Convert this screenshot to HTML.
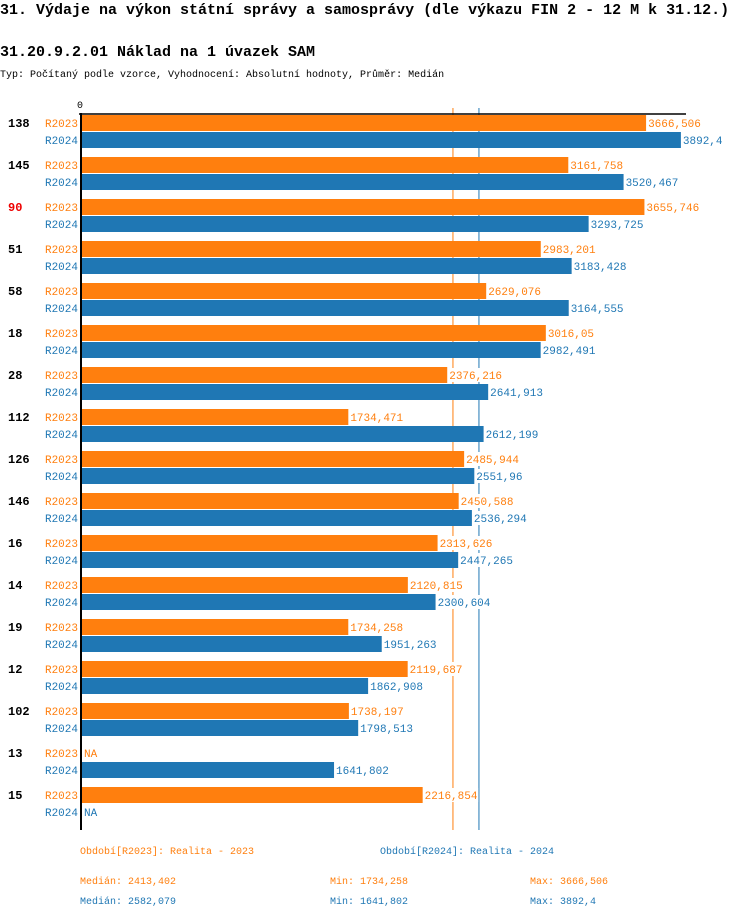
<!DOCTYPE html>
<html><head><meta charset="utf-8"><style>
body{margin:0;background:#fff;width:750px;height:918px;overflow:hidden;font-family:"Liberation Mono",monospace}
svg text{font-family:"Liberation Mono",monospace}
</style></head><body>
<svg id="chart" width="750" height="918" xmlns="http://www.w3.org/2000/svg">
<text x="0" y="14" font-size="15" font-weight="bold" fill="#000">31. Výdaje na výkon státní správy a samosprávy (dle výkazu FIN 2 - 12 M k 31.12.)</text>
<text x="0" y="56" font-size="15" font-weight="bold" fill="#000">31.20.9.2.01 Náklad na 1 úvazek SAM</text>
<text x="0" y="77" font-size="10" fill="#000">Typ: Počítaný podle vzorce, Vyhodnocení: Absolutní hodnoty, Průměr: Medián</text>
<text x="77" y="108" font-size="10" fill="#000">0</text>
<g id="marks"></g>
<line x1="79" y1="114" x2="686" y2="114" stroke="#000" stroke-width="1.5"/>
<line x1="81" y1="113" x2="81" y2="830" stroke="#000" stroke-width="2"/>
<g font-size="10">
<text x="80" y="854" fill="#ff7f0e">Období[R2023]: Realita - 2023</text>
<text x="380" y="854" fill="#1f77b4">Období[R2024]: Realita - 2024</text>
<text x="80" y="884" fill="#ff7f0e">Medián: 2413,402</text>
<text x="330" y="884" fill="#ff7f0e">Min: 1734,258</text>
<text x="530" y="884" fill="#ff7f0e">Max: 3666,506</text>
<text x="80" y="904" fill="#1f77b4">Medián: 2582,079</text>
<text x="330" y="904" fill="#1f77b4">Min: 1641,802</text>
<text x="530" y="904" fill="#1f77b4">Max: 3892,4</text>
</g>
</svg>
<script>
const categories=["138","145","90","51","58","18","28","112","126","146","16","14","19","12","102","13","15"];
const r2023=[3666.506,3161.758,3655.746,2983.201,2629.076,3016.05,2376.216,1734.471,2485.944,2450.588,2313.626,2120.815,1734.258,2119.687,1738.197,null,2216.854];
const r2024=[3892.4,3520.467,3293.725,3183.428,3164.555,2982.491,2641.913,2612.199,2551.96,2536.294,2447.265,2300.604,1951.263,1862.908,1798.513,1641.802,null];
const medians=[2413.402,2582.079];
const highlight="90";
const NS="http://www.w3.org/2000/svg";
const g=document.getElementById('marks');
const x=v=>81+v*0.15412;
const y=i=>115+i*42;
function mk(t,a){const e=document.createElementNS(NS,t);for(const k in a)e.setAttribute(k,a[k]);g.appendChild(e);return e;}
const fmt=v=>String(v).replace('.',',');
const cols=["#ff7f0e","#1f77b4"];
medians.forEach((m,j)=>{
 const l=mk('line',{x1:x(m),x2:x(m),y1:108,y2:830,stroke:cols[j],'stroke-width':1});
 
 
});
categories.forEach((c,i)=>{
 const t=mk('text',{x:8,y:y(i)+12,'font-size':12,'font-weight':'bold',fill:c===highlight?'#e00':'#000'});
 t.textContent=c;
 
 
 [r2023[i],r2024[i]].forEach((v,j)=>{
  const yy=y(i)+j*17;
  const lb=mk('text',{x:78,y:yy+12,'font-size':11,fill:cols[j],'text-anchor':'end'});
  lb.textContent=j?'R2024':'R2023';
  
  
  let end=82;
  if(v!==null){
   const r=mk('rect',{x:82,y:yy,width:x(v)-82,height:16,fill:cols[j]});
   
   
   end=x(v);
  }
  const txt=v===null?'NA':fmt(v);
  const bg=mk('rect',{x:end+1,y:yy+1,width:txt.length*6.6+2,height:14,fill:'#fff'});
  
  
  const vl=mk('text',{x:end+2,y:yy+12,'font-size':11,fill:cols[j]});
  vl.textContent=txt;
  
  
 });
});
</script>
</body></html>
